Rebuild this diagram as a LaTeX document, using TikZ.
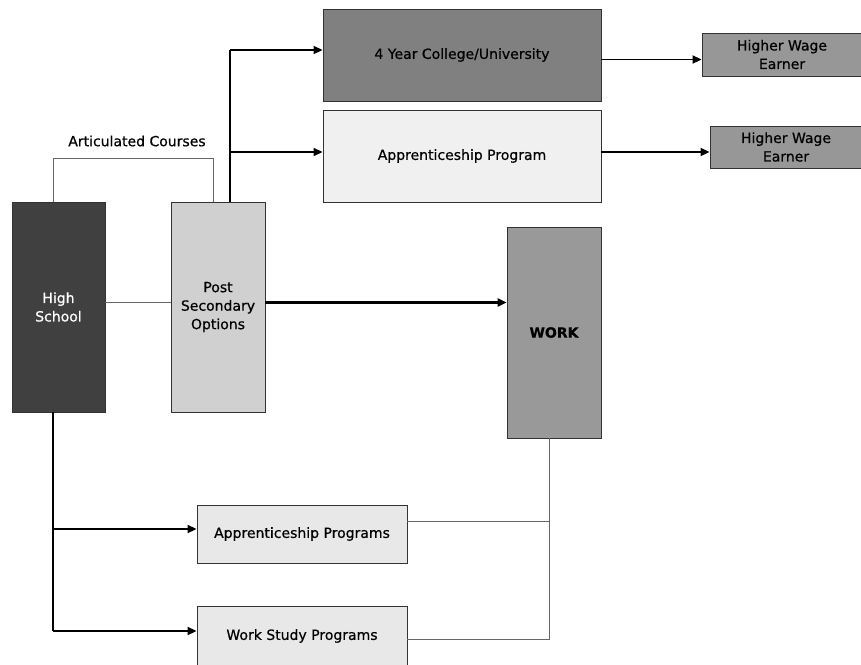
\documentclass[tikz,border=0pt]{standalone}
\usepackage{fontspec}
\setmainfont{DejaVu Sans}[FakeBold=0.6]
\usetikzlibrary{arrows.meta,calc}

\definecolor{hsfill}{HTML}{404040}
\definecolor{psofill}{HTML}{D0D0D0}
\definecolor{collegefill}{HTML}{808080}
\definecolor{appfill}{HTML}{F0F0F0}
\definecolor{wagefill}{HTML}{979797}
\definecolor{workfill}{HTML}{999999}
\definecolor{progfill}{HTML}{E8E8E8}
\definecolor{edge}{HTML}{333333}
\definecolor{thinline}{HTML}{666666}

\tikzset{
  box/.style={draw=edge, line width=0.9pt, rectangle, inner sep=2pt,
    align=center, font=\fontsize{14}{18.5}\selectfont},
  flow/.style={draw=black, line width=1.8pt, -{Triangle[length=9pt,width=8pt]}},
  trunk/.style={draw=black, line width=1.1pt},
  link/.style={draw=thinline, line width=1pt},
}

\begin{document}
\begin{tikzpicture}[x=1pt,y=-1pt]
\useasboundingbox (0,0) rectangle (861,664);

% stages
\node[box, fill=hsfill, text=white, minimum width=93, minimum height=210] (hs) at (58.5,307) {High\\School};
\node[box, fill=psofill, minimum width=94, minimum height=210] (pso) at (218,307) {Post\\Secondary\\Options};
\node[box, fill=collegefill, minimum width=278, minimum height=92] (college) at (462,55) {4 Year College/University};
\node[box, fill=appfill, minimum width=278, minimum height=92] (app) at (462,156) {Apprenticeship Program};
\node[box, fill=wagefill, minimum width=160, minimum height=43] (wage1) at (782,54.5) {Higher Wage\\Earner};
\node[box, fill=wagefill, minimum width=152, minimum height=42] (wage2) at (786,147) {Higher Wage\\Earner};
\node[box, fill=workfill, minimum width=94, minimum height=211, font=\fontsize{14}{18}\selectfont\bfseries] (work) at (554,332.5) {WORK};
\node[box, fill=progfill, minimum width=210, minimum height=58] (appprog) at (302,534) {Apprenticeship Programs};
\node[box, fill=progfill, minimum width=210, minimum height=60] (wsprog) at (302,636) {Work Study Programs};

% articulated courses
\draw[link] ([xshift=-5.5]hs.north) -- ++(0,-43) coordinate (acl) -| ([xshift=-5]pso.north);
\node[font=\fontsize{14}{16}\selectfont] (aclabel) at (137,141) {Articulated Courses};

% high school to post secondary
\draw[link] ([yshift=4.5]hs.east) -- ([yshift=4.5]pso.west);

% post secondary branches
\coordinate (psotop) at ([xshift=12]pso.north);
\coordinate (collegein) at ([yshift=5]college.west);
\coordinate (appin) at ([yshift=4]app.west);
\coordinate (upper) at (psotop |- collegein);
\coordinate (lower) at (psotop |- appin);
\draw[trunk] (psotop) -- (upper);
\draw[flow] (upper) -- (collegein);
\draw[flow] (lower) -- (appin);
\draw[flow, line width=2.4pt] ([yshift=4.5]pso.east) -- ([yshift=4.5]pso.east -| work.west);

% to higher wage earners
\draw[flow] ([yshift=-4.5]college.east) -- ([yshift=-4.5]college.east -| wage1.west);
\draw[flow] ([yshift=4]app.east) -- ([yshift=4]app.east -| wage2.west);

% high school to programs
\coordinate (hsfoot) at ([xshift=-5.5]hs.south);
\coordinate (appprogin) at ([yshift=5]appprog.west);
\coordinate (wsprogin) at ([yshift=5]wsprog.west);
\coordinate (midtap) at (hsfoot |- appprogin);
\coordinate (lowtap) at (hsfoot |- wsprogin);
\draw[trunk] (hsfoot) -- (lowtap);
\draw[flow] (midtap) -- (appprogin);
\draw[flow] (lowtap) -- (wsprogin);

% programs to work
\coordinate (wkfoot) at ([xshift=-5]work.south);
\draw[link] (wkfoot) |- ([yshift=-3]wsprog.east);
\draw[link] ([yshift=13]appprog.east) -- ([yshift=13]appprog.east -| wkfoot);
\end{tikzpicture}
\end{document}
